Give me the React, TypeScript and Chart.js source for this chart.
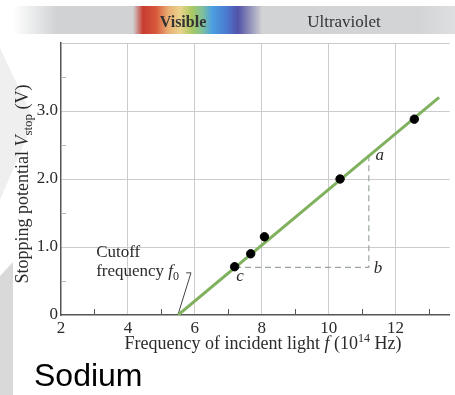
import React, { useEffect, useRef } from 'react';
import { Chart, registerables } from 'chart.js';

Chart.register(...registerables);

// ---- data ----
const measuredFreq = [7.19, 7.67, 8.08, 10.34, 12.56];
const measuredVstop = [0.71, 0.9, 1.15, 2.0, 2.88];
const fitFreq = [5.5, 13.3];
const fitVstop = [0, 3.2];
const guideFreq = [7.2, 11.2, 11.2];
const guideVstop = [0.7, 0.7, 2.33];
const cutoffFreq = [5.74, 5.885, 5.5];
const cutoffVstop = [0.62, 0.62, 0.01];
const xTickValues = [2, 3, 4, 5, 6, 7, 8, 9, 10, 11, 12, 13];
const xTickLabels: Record<number, string> = { 2: '2', 4: '4', 6: '6', 8: '8', 10: '10', 12: '12' };
const yTickValues = [0, 0.5, 1, 1.5, 2, 2.5, 3, 3.5, 4];
const yTickLabels: Record<number, string> = { 0: '0', 1: '1.0', 2: '2.0', 3: '3.0' };
const xMinorTicks = [3, 5, 7, 9, 11, 13];
const yMinorTicks = [0.5, 1.5, 2.5, 3.5];
const pointLabels = [
  { text: 'a', x: 11.4, y: 2.34 },
  { text: 'b', x: 11.35, y: 0.69 },
  { text: 'c', x: 7.24, y: 0.57 },
];

const SERIF = '"Liberation Serif", "Times New Roman", serif';
const SANS = '"Liberation Sans", Arial, sans-serif';
const TEXT = '#2b2b2b';

type Run = { text: string; font: string; dy?: number };

function drawRuns(ctx: CanvasRenderingContext2D, runs: Run[], x: number, y: number, align: 'left' | 'center') {
  let total = 0;
  const widths = runs.map((r) => {
    ctx.font = r.font;
    const w = ctx.measureText(r.text).width;
    total += w;
    return w;
  });
  let cx = align === 'center' ? x - total / 2 : x;
  ctx.textAlign = 'left';
  ctx.textBaseline = 'alphabetic';
  runs.forEach((r, i) => {
    ctx.font = r.font;
    ctx.fillText(r.text, cx, y + (r.dy || 0));
    cx += widths[i];
  });
}

const decorPlugin = {
  id: 'decor',
  beforeDraw(chart: any) {
    const ctx: CanvasRenderingContext2D = chart.ctx;
    const W = chart.width;
    const H = chart.height;
    ctx.save();
    ctx.fillStyle = '#ffffff';
    ctx.fillRect(0, 0, W, H);
    // faint slide decorations
    ctx.fillStyle = '#efefef';
    ctx.beginPath();
    ctx.moveTo(0, 48);
    ctx.lineTo(34, 120);
    ctx.lineTo(0, 200);
    ctx.closePath();
    ctx.fill();
    ctx.fillStyle = '#d9d9d9';
    ctx.beginPath();
    ctx.moveTo(0, 276);
    ctx.lineTo(13, 262);
    ctx.lineTo(13, H);
    ctx.lineTo(0, H);
    ctx.closePath();
    ctx.fill();
    // top spectrum band
    const g = ctx.createLinearGradient(13, 0, W, 0);
    g.addColorStop(0, 'rgba(208,210,212,0)');
    g.addColorStop(0.1, 'rgba(208,210,212,1)');
    g.addColorStop(0.92, 'rgba(210,212,214,1)');
    g.addColorStop(1, 'rgba(222,223,225,1)');
    ctx.fillStyle = g;
    ctx.fillRect(13, 6, W - 13, 28);
    const r = ctx.createLinearGradient(133, 0, 262, 0);
    const stops: [number, string][] = [
      [133, 'rgba(208,210,212,1)'],
      [143, '#c83c30'],
      [156, '#d8583c'],
      [168, '#e9ad72'],
      [180, '#ead38c'],
      [192, '#a9c862'],
      [203, '#7cbfa0'],
      [212, '#4c9fe0'],
      [226, '#4a7bd0'],
      [238, '#5252a8'],
      [249, '#8c8cb8'],
      [262, 'rgba(208,210,212,1)'],
    ];
    stops.forEach(([p, c]) => r.addColorStop((p - 133) / (262 - 133), c));
    ctx.fillStyle = r;
    ctx.fillRect(133, 6, 129, 28);
    ctx.fillStyle = '#333';
    ctx.font = `bold 16px ${SERIF}`;
    ctx.textAlign = 'center';
    ctx.textBaseline = 'alphabetic';
    ctx.fillText('Visible', 183, 27);
    ctx.font = `17px ${SERIF}`;
    ctx.fillText('Ultraviolet', 344, 27);
    ctx.restore();
  },
  afterDraw(chart: any) {
    const ctx: CanvasRenderingContext2D = chart.ctx;
    const xs = chart.scales.x;
    const ys = chart.scales.y;
    const area = chart.chartArea;
    ctx.save();
    // minor ticks
    ctx.strokeStyle = '#555';
    ctx.lineWidth = 1;
    xMinorTicks.forEach((v) => {
      const px = Math.round(xs.getPixelForValue(v)) + 0.5;
      ctx.beginPath();
      ctx.moveTo(px, area.bottom);
      ctx.lineTo(px, area.bottom - 6);
      ctx.stroke();
    });
    ctx.strokeStyle = '#b5b5b5';
    yMinorTicks.forEach((v) => {
      const py = Math.round(ys.getPixelForValue(v)) + 0.5;
      ctx.beginPath();
      ctx.moveTo(area.left, py);
      ctx.lineTo(area.left + 5, py);
      ctx.stroke();
    });
    // point labels a, b, c
    ctx.fillStyle = TEXT;
    ctx.font = `italic 17px ${SERIF}`;
    ctx.textAlign = 'left';
    ctx.textBaseline = 'middle';
    pointLabels.forEach((l) => {
      ctx.fillText(l.text, xs.getPixelForValue(l.x), ys.getPixelForValue(l.y));
    });
    // cutoff label
    const cx = xs.getPixelForValue(3.05);
    drawRuns(ctx, [{ text: 'Cutoff', font: `17px ${SERIF}` }], cx, ys.getPixelForValue(0.85), 'left');
    drawRuns(
      ctx,
      [
        { text: 'frequency ', font: `17px ${SERIF}` },
        { text: 'f', font: `italic 17px ${SERIF}` },
        { text: '0', font: `12px ${SERIF}`, dy: 4 },
      ],
      cx,
      ys.getPixelForValue(0.57),
      'left'
    );
    // x axis title
    drawRuns(
      ctx,
      [
        { text: 'Frequency of incident light ', font: `18px ${SERIF}` },
        { text: 'f', font: `italic 18px ${SERIF}` },
        { text: ' (10', font: `18px ${SERIF}` },
        { text: '14', font: `12px ${SERIF}`, dy: -7 },
        { text: ' Hz)', font: `18px ${SERIF}` },
      ],
      263,
      349,
      'center'
    );
    // y axis title
    ctx.save();
    ctx.translate(28, 184);
    ctx.rotate(-Math.PI / 2);
    drawRuns(
      ctx,
      [
        { text: 'Stopping potential ', font: `18px ${SERIF}` },
        { text: 'V', font: `italic 18px ${SERIF}` },
        { text: 'stop', font: `13px ${SERIF}`, dy: 4 },
        { text: ' (V)', font: `18px ${SERIF}` },
      ],
      0,
      0,
      'center'
    );
    ctx.restore();
    // caption
    ctx.fillStyle = '#000';
    ctx.font = `32px ${SANS}`;
    ctx.textAlign = 'left';
    ctx.textBaseline = 'alphabetic';
    ctx.fillText('Sodium', 34, 386);
    ctx.restore();
  },
};

export default function App() {
  const ref = useRef<HTMLCanvasElement | null>(null);

  useEffect(() => {
    if (!ref.current) return;
    const pts = (xs: number[], ys: number[]) => xs.map((x, i) => ({ x, y: ys[i] }));
    const chart = new Chart(ref.current, {
      type: 'scatter',
      data: {
        datasets: [
          {
            label: 'Measured',
            data: pts(measuredFreq, measuredVstop),
            backgroundColor: '#000',
            borderColor: '#000',
            pointRadius: 4.2,
            showLine: false,
          },
          {
            label: 'Fit',
            data: pts(fitFreq, fitVstop),
            showLine: true,
            borderColor: '#80b15e',
            borderWidth: 3,
            pointRadius: 0,
          },
          {
            label: 'Guide',
            data: pts(guideFreq, guideVstop),
            showLine: true,
            borderColor: '#9aa69a',
            borderWidth: 1.2,
            borderDash: [6, 4],
            pointRadius: 0,
          },
          {
            label: 'Cutoff',
            data: pts(cutoffFreq, cutoffVstop),
            showLine: true,
            borderColor: '#444',
            borderWidth: 1,
            pointRadius: 0,
          },
        ],
      },
      options: {
        responsive: false,
        maintainAspectRatio: false,
        animation: false,
        layout: { padding: { top: 43, left: 0, right: 0, bottom: 0 } },
        plugins: {
          legend: { display: false },
          tooltip: { enabled: false },
          title: { display: false },
        },
        scales: {
          x: {
            type: 'linear',
            min: 2,
            max: 13.62,
            afterBuildTicks: (s: any) => {
              s.ticks = xTickValues.map((v) => ({ value: v }));
            },
            afterFit: (s: any) => {
              s.height = 80;
            },
            ticks: {
              autoSkip: false,
              maxRotation: 0,
              padding: 3,
              color: TEXT,
              font: { family: SERIF, size: 17 },
              callback: (v: any) => xTickLabels[Number(v)] ?? '',
            },
            grid: {
              drawTicks: false,
              lineWidth: 1,
              color: (c: any) => {
                const v = c.tick ? c.tick.value : 0;
                return xTickLabels[v] && v !== 2 ? '#cccccc' : 'rgba(0,0,0,0)';
              },
            },
            border: { color: '#555', width: 1.5 },
          },
          y: {
            type: 'linear',
            min: 0,
            max: 4,
            afterBuildTicks: (s: any) => {
              s.ticks = yTickValues.map((v) => ({ value: v }));
            },
            afterFit: (s: any) => {
              s.width = 61;
            },
            ticks: {
              autoSkip: false,
              padding: 3,
              color: TEXT,
              font: { family: SERIF, size: 17 },
              callback: (v: any) => yTickLabels[Number(v)] ?? '',
            },
            grid: {
              drawTicks: false,
              lineWidth: 1,
              color: (c: any) => {
                const v = c.tick ? c.tick.value : 0;
                return Number.isInteger(v) && v !== 0 ? '#cccccc' : 'rgba(0,0,0,0)';
              },
            },
            border: { color: '#555', width: 1.5 },
          },
        },
      },
      plugins: [decorPlugin],
    } as any);
    return () => chart.destroy();
  }, []);

  return (
    <div style={{ position: 'absolute', left: 0, top: 0, width: 455, height: 395 }}>
      <canvas ref={ref} width={455} height={395} style={{ width: 455, height: 395, display: 'block' }} />
    </div>
  );
}
